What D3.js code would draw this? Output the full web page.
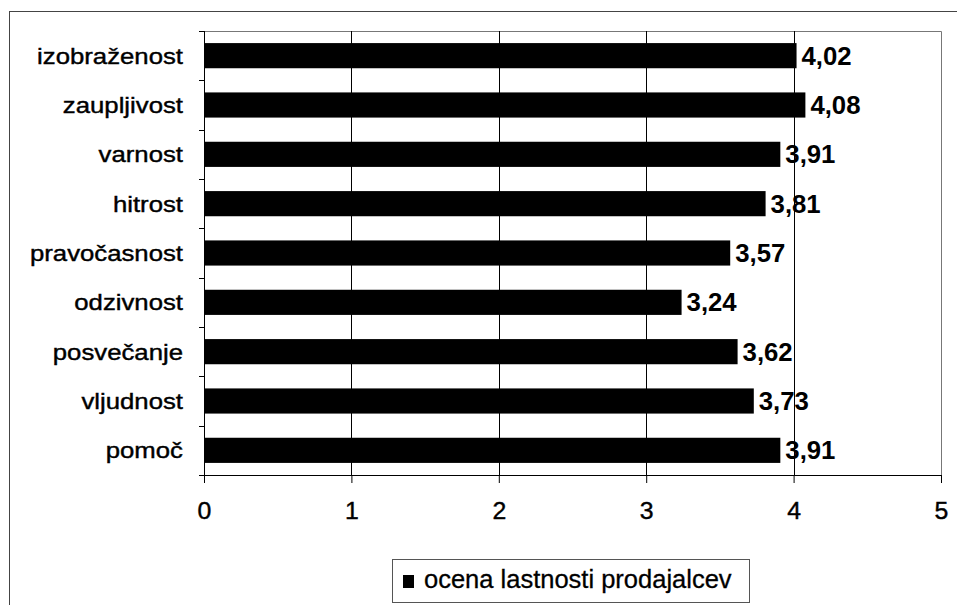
<!DOCTYPE html>
<html>
<head>
<meta charset="utf-8">
<script src="https://cdn.jsdelivr.net/npm/d3@7"></script>
<style>
  html, body { margin: 0; padding: 0; background: #fff; }
  svg { display: block; font-family: "Liberation Sans", Arial, sans-serif; }
</style>
</head>
<body>
<svg id="chart" width="957" height="605"></svg>
<script>
// Ocena lastnosti prodajalcev (1–5)
const categories = ["izobraženost", "zaupljivost", "varnost", "hitrost", "pravočasnost",
                    "odzivnost", "posvečanje", "vljudnost", "pomoč"];
const values = [4.02, 4.08, 3.91, 3.81, 3.57, 3.24, 3.62, 3.73, 3.91];
const xTicks = [0, 1, 2, 3, 4, 5];
const seriesName = "ocena lastnosti prodajalcev";

const svg = d3.select("#chart");
const plot = { left: 204, right: 941, top: 31, bottom: 475 };

// outer chart frame (runs off the right and bottom edges)
svg.append("rect")
  .attr("x", 9.5).attr("y", 11.5).attr("width", 960).attr("height", 600)
  .attr("fill", "none").attr("stroke", "#444").attr("stroke-width", 1);

const x = d3.scaleLinear().domain([0, 5]).range([plot.left, plot.right]);
const y = d3.scaleBand().domain(categories).range([plot.top, plot.bottom]).paddingInner(0.49).paddingOuter(0.245);
const yb = d3.scaleBand().domain(categories).range([plot.top, plot.bottom]);

// plot area border (top and right)
svg.append("path")
  .attr("d", `M${plot.left},${plot.top + 0.5}H${plot.right + 0.5}V${plot.bottom + 6}`)
  .attr("fill", "none").attr("stroke", "#777").attr("stroke-width", 1);

// vertical gridlines
svg.append("g").selectAll("line")
  .data(xTicks.filter(t => t > 0 && t < 5))
  .join("line")
  .attr("x1", d => Math.round(x(d)) + 0.5).attr("x2", d => Math.round(x(d)) + 0.5)
  .attr("y1", plot.top).attr("y2", plot.bottom)
  .attr("stroke", "#000").attr("stroke-width", 1);

// bars
svg.append("g").selectAll("rect")
  .data(categories)
  .join("rect")
  .attr("x", x(0))
  .attr("y", d => y(d))
  .attr("width", (d, i) => x(values[i]) - x(0))
  .attr("height", y.bandwidth())
  .attr("fill", "#000");

// value labels
svg.append("g").selectAll("text")
  .data(categories)
  .join("text")
  .attr("transform", (d, i) => `translate(${x(values[i]) + 5},${y(d) + y.bandwidth() / 2}) scale(1.03,1)`)
  .attr("dy", "0.36em")
  .attr("font-size", 25)
  .attr("font-weight", "bold")
  .attr("fill", "#000")
  .text((d, i) => values[i].toFixed(2).replace(".", ","));

// x axis
const xAxis = d3.axisBottom(x).tickValues(xTicks).tickSize(8).tickPadding(20)
  .tickFormat(d => d);
const gx = svg.append("g").attr("transform", `translate(0,${plot.bottom})`).call(xAxis);
gx.attr("font-size", 23).attr("font-family", "'Liberation Sans', Arial, sans-serif");
gx.select(".domain").attr("stroke", "#000");
gx.selectAll(".tick line").attr("stroke", "#000");
gx.selectAll(".tick text")
  .attr("font-size", 23)
  .attr("fill", "#000")
  .attr("stroke", "#000").attr("stroke-width", 0.4)
  .attr("transform", "scale(1.08,1)");

// y axis with ticks on category boundaries
const gy = svg.append("g").attr("transform", `translate(${plot.left},0)`);
gy.append("line")
  .attr("x1", 0.5).attr("x2", 0.5).attr("y1", plot.top).attr("y2", plot.bottom + 8)
  .attr("stroke", "#000");
gy.selectAll("line.tk")
  .data(categories.concat(["__end"]))
  .join("line").attr("class", "tk")
  .attr("x1", -5).attr("x2", 0)
  .attr("y1", (d, i) => Math.round(i < categories.length ? yb(d) : plot.bottom) + 0.5)
  .attr("y2", (d, i) => Math.round(i < categories.length ? yb(d) : plot.bottom) + 0.5)
  .attr("stroke", "#000");
gy.selectAll("text")
  .data(categories)
  .join("text")
  .attr("transform", d => `translate(-21,${yb(d) + yb.bandwidth() / 2}) scale(1.17,1)`)
  .attr("dy", "0.36em")
  .attr("text-anchor", "end")
  .attr("font-size", 22)
  .attr("fill", "#000")
  .attr("stroke", "#000").attr("stroke-width", 0.4)
  .text(d => d);

// legend
const lg = svg.append("g");
lg.append("rect")
  .attr("x", 392.5).attr("y", 559.5).attr("width", 357).attr("height", 43)
  .attr("fill", "#fff").attr("stroke", "#555");
lg.append("rect")
  .attr("x", 403).attr("y", 575).attr("width", 11).attr("height", 13)
  .attr("fill", "#000");
lg.append("text")
  .attr("x", 424).attr("y", 588)
  .attr("font-size", 25.5).attr("fill", "#000")
  .attr("stroke", "#000").attr("stroke-width", 0.3)
  .text(seriesName);
</script>
</body>
</html>
